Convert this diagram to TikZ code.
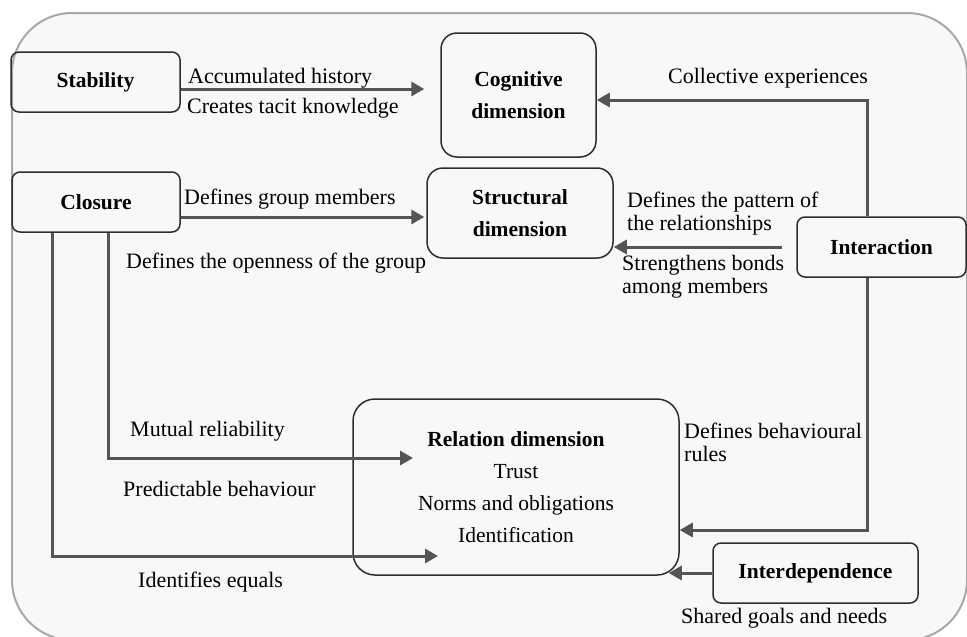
\documentclass[tikz,border=0pt]{standalone}
\usepackage{fontspec}
\setmainfont{Liberation Serif}
\usetikzlibrary{arrows.meta}
\definecolor{framecol}{HTML}{A8A8A8}
\definecolor{paper}{HTML}{F8F8F8}
\definecolor{edgecol}{HTML}{2E2E2E}
\definecolor{arrowcol}{HTML}{555555}
\begin{document}
\begin{tikzpicture}[x=1pt,y=-1pt,
  box/.style={draw=edgecol, line width=1.5pt, rounded corners=8pt, inner sep=0pt,
    align=center, font=\fontsize{21.5}{32}\selectfont\bfseries},
  dimbox/.style={box, rounded corners=16pt},
  lbl/.style={inner sep=0pt, anchor=base west, align=left,
    font=\fontsize{22}{23}\selectfont},
  arr/.style={draw=arrowcol, line width=3pt, -{Triangle[length=13pt,width=14pt]}},
]
\useasboundingbox (0,0) rectangle (967,637);
% outer frame
\draw[framecol, line width=2pt, fill=paper, rounded corners=60pt] (12,13) rectangle (967,640);

% boxes
\node[box, minimum width=169pt, minimum height=60pt] (stab) at (95.5,82) {Stability};
\node[box, minimum width=168pt, minimum height=60pt] (clos) at (96,202) {Closure};
\node[dimbox, minimum width=155pt, minimum height=124pt] (cog) at (518.5,95) {Cognitive\\dimension};
\node[dimbox, minimum width=186pt, minimum height=90pt] (struc) at (520,213) {Structural\\dimension};
\node[box, minimum width=169pt, minimum height=60pt] (inter) at (881.5,247) {Interaction};
\node[dimbox, rounded corners=22pt, minimum width=326pt, minimum height=176pt,
  font=\fontsize{21.5}{32}\selectfont] (rel) at (516,487)
  {\textbf{Relation dimension}\\Trust\\Norms and obligations\\Identification};
\node[box, minimum width=205pt, minimum height=60pt] (interd) at (815.5,573) {Interdependence};

% free arrow ends inside the relation box
\coordinate (relin1) at (413,458);
\coordinate (relin2) at (438,556);

% connectors
\draw[arr, shorten >=16pt] (stab.east |- 0,89) -- (cog.west |- 0,89);
\draw[arr, shorten >=2pt] (clos.east |- 0,217) -- (struc.west |- 0,217);
\draw[arr] (inter.north -| 867,0) |- (cog.east |- 0,100);
\draw[arr, shorten <=14pt] (inter.west) -- (struc.east |- inter.west);
\draw[arr] (inter.south -| 867,0) |- (rel.east |- 0,530);
\draw[arr, shorten >=-11pt] (interd.west) -- (rel.east |- interd.west);
\draw[arr] (clos.south -| 108,0) |- (relin1);
\draw[arr] (clos.south -| 52,0) |- (relin2);

% connector labels (base = baseline of the last line)
\node[lbl] (accum) at (188,83) {Accumulated history};
\node[lbl] (tacit) at (187,113) {Creates tacit knowledge};
\node[lbl] (members) at (184,204) {Defines group members};
\node[lbl] (openness) at (126,268) {Defines the openness of the group};
\node[lbl] (collective) at (668,83) {Collective experiences};
\node[lbl] (pattern) at (627,230) {Defines the pattern of\\the relationships};
\node[lbl] (bonds) at (622,293) {Strengthens bonds\\among members};
\node[lbl] (mutual) at (130,436) {Mutual reliability};
\node[lbl] (predict) at (123,496) {Predictable behaviour};
\node[lbl] (equals) at (138,587) {Identifies equals};
\node[lbl] (rules) at (684,461) {Defines behavioural\\rules};
\node[lbl] (goals) at (681,623) {Shared goals and needs};
\end{tikzpicture}
\end{document}
